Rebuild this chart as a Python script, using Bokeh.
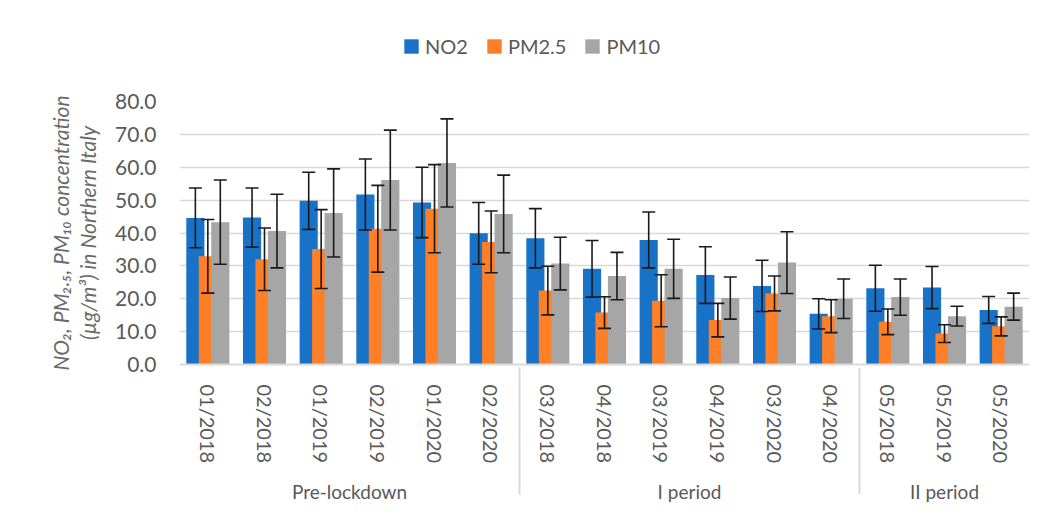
from bokeh.plotting import figure
from bokeh.layouts import column
from bokeh.models import FactorRange, ColumnDataSource, NumeralTickFormatter, FixedTicker, Range1d
from bokeh.transform import dodge
from bokeh.embed import file_html
from bokeh.resources import INLINE

groups = ["Pre-lockdown"] * 6 + ["I period"] * 6 + ["II period"] * 3
months = ["01/2018", "02/2018", "01/2019", "02/2019", "01/2020", "02/2020",
          "03/2018", "04/2018", "03/2019", "04/2019", "03/2020", "04/2020",
          "05/2018", "05/2019", "05/2020"]
series = ["NO2", "PM2.5", "PM10"]

no2 = [44.6, 44.7, 49.8, 51.7, 49.3, 39.9, 38.4, 29.1, 37.9, 27.2, 23.9, 15.4, 23.2, 23.4, 16.6]
no2_sd = [9.1, 9.0, 8.7, 10.8, 10.7, 9.4, 9.0, 8.6, 8.5, 8.6, 7.8, 4.6, 7.0, 6.4, 4.1]
pm25 = [32.9, 32.0, 35.1, 41.3, 47.4, 37.3, 22.5, 15.8, 19.4, 13.5, 21.6, 14.7, 13.0, 9.4, 11.6]
pm25_sd = [11.2, 9.5, 12.0, 13.2, 13.4, 9.4, 7.4, 4.8, 7.9, 5.1, 5.3, 5.0, 3.9, 2.7, 2.9]
pm10 = [43.3, 40.6, 46.1, 56.1, 61.3, 45.8, 30.7, 26.9, 29.1, 20.2, 31.0, 20.0, 20.5, 14.7, 17.6]
pm10_sd = [12.8, 11.2, 13.4, 15.2, 13.4, 11.8, 8.0, 7.2, 9.0, 6.4, 9.4, 6.0, 5.5, 3.0, 4.1]

colors = ["#1872C8", "#FE7F26", "#A6A6A6"]
FONT = "Lato"
TXT = "#595959"
ERR = "#1a1a1a"

factors = list(zip(groups, months))
vals = [no2, pm25, pm10]
sds = [no2_sd, pm25_sd, pm10_sd]
offsets = [-0.22, 0.0, 0.22]

# ---- legend strip (separate small figure, legend drawn inside its frame) ----
LEG_H = 85
lf = figure(x_range=FactorRange(*factors), y_range=Range1d(1000, 1001),
            width=1048, height=LEG_H, output_backend="svg", toolbar_location=None,
            x_axis_location=None, y_axis_location=None, min_border=0)
lf.outline_line_color = None
lf.xgrid.grid_line_color = None
lf.ygrid.grid_line_color = None
for name, v, c in zip(series, vals, colors):
    lf.vbar(x=factors, top=v, bottom=0, width=0.3, fill_color=c, line_color=None,
            legend_label=name)
lg = lf.legend[0]
lg.orientation = "horizontal"
lg.location = (223, 27)
lg.label_text_font = FONT
lg.label_text_font_size = "20px"
lg.label_text_color = TXT
lg.glyph_width = 18
lg.glyph_height = 18
lg.label_standoff = 5
lg.spacing = 17
lg.padding = 5
lg.margin = 0
lg.border_line_color = None
lg.background_fill_alpha = 0

# ---- main chart ----
x_range = FactorRange(*factors, group_padding=0, factor_padding=0, range_padding=0)
p = figure(x_range=x_range, y_range=(0, 80), width=1048, height=521 - LEG_H,
           output_backend="svg", toolbar_location=None,
           min_border_left=179, min_border_right=19, min_border_top=16,
           min_border_bottom=157)
p.outline_line_color = None

sources = []
for name, v, s, c, off in zip(series, vals, sds, colors, offsets):
    src = ColumnDataSource(dict(x=factors, top=v,
                                upper=[a + b for a, b in zip(v, s)],
                                lower=[a - b for a, b in zip(v, s)]))
    sources.append((src, off))
    p.vbar(x=dodge("x", off, range=p.x_range), top="top", bottom=0, width=0.32,
           source=src, fill_color=c, line_color=None)

for src, off in sources:
    xd = dodge("x", off, range=p.x_range)
    p.segment(x0=xd, y0="lower", x1=xd, y1="upper", source=src,
              line_color=ERR, line_width=1.6)
    p.scatter(x=xd, y="upper", source=src, marker="dash", size=13,
              line_color=ERR, line_width=1.6)
    p.scatter(x=xd, y="lower", source=src, marker="dash", size=13,
              line_color=ERR, line_width=1.6)

# y axis
p.yaxis.ticker = FixedTicker(ticks=[0, 10, 20, 30, 40, 50, 60, 70, 80])
p.yaxis.formatter = NumeralTickFormatter(format="0.0")
p.yaxis.axis_line_color = None
p.yaxis.major_tick_line_color = None
p.yaxis.minor_tick_line_color = None
p.yaxis.major_label_text_font = FONT
p.yaxis.major_label_text_font_size = "21px"
p.yaxis.major_label_text_color = TXT
p.yaxis.major_label_standoff = 17
p.yaxis.axis_label = "NO\u2082, PM\u2082.\u2085, PM\u2081\u2080 concentration\n(\u00b5g/m\u00b3) in Northern Italy"
p.yaxis.axis_label_text_font = FONT
p.yaxis.axis_label_text_font_style = "italic"
p.yaxis.axis_label_text_font_size = "21px"
p.yaxis.axis_label_text_line_height = 1.1
p.yaxis.axis_label_text_color = "#6a6a6a"
p.yaxis.axis_label_standoff = 12

# x axis
p.xaxis.axis_line_color = "#d9d9d9"
p.xaxis.axis_line_width = 2
p.xaxis.major_tick_line_color = None
p.xaxis.minor_tick_line_color = None
p.xaxis.major_label_orientation = "vertical"
p.xaxis.major_label_text_font = FONT
p.xaxis.major_label_text_font_size = "20px"
p.xaxis.major_label_text_color = TXT
p.xaxis.major_label_standoff = 14
p.xaxis.group_text_font = FONT
p.xaxis.group_text_font_size = "19px"
p.xaxis.group_text_font_style = "normal"
p.xaxis.group_text_color = TXT
p.xaxis.separator_line_color = "#d9d9d9"
p.xaxis.separator_line_width = 2

p.xgrid.grid_line_color = None
p.ygrid.grid_line_color = "#d9d9d9"
p.ygrid.grid_line_width = 1.5

layout = column(lf, p, spacing=0)
open("out.html", "w").write(file_html(layout, INLINE))
